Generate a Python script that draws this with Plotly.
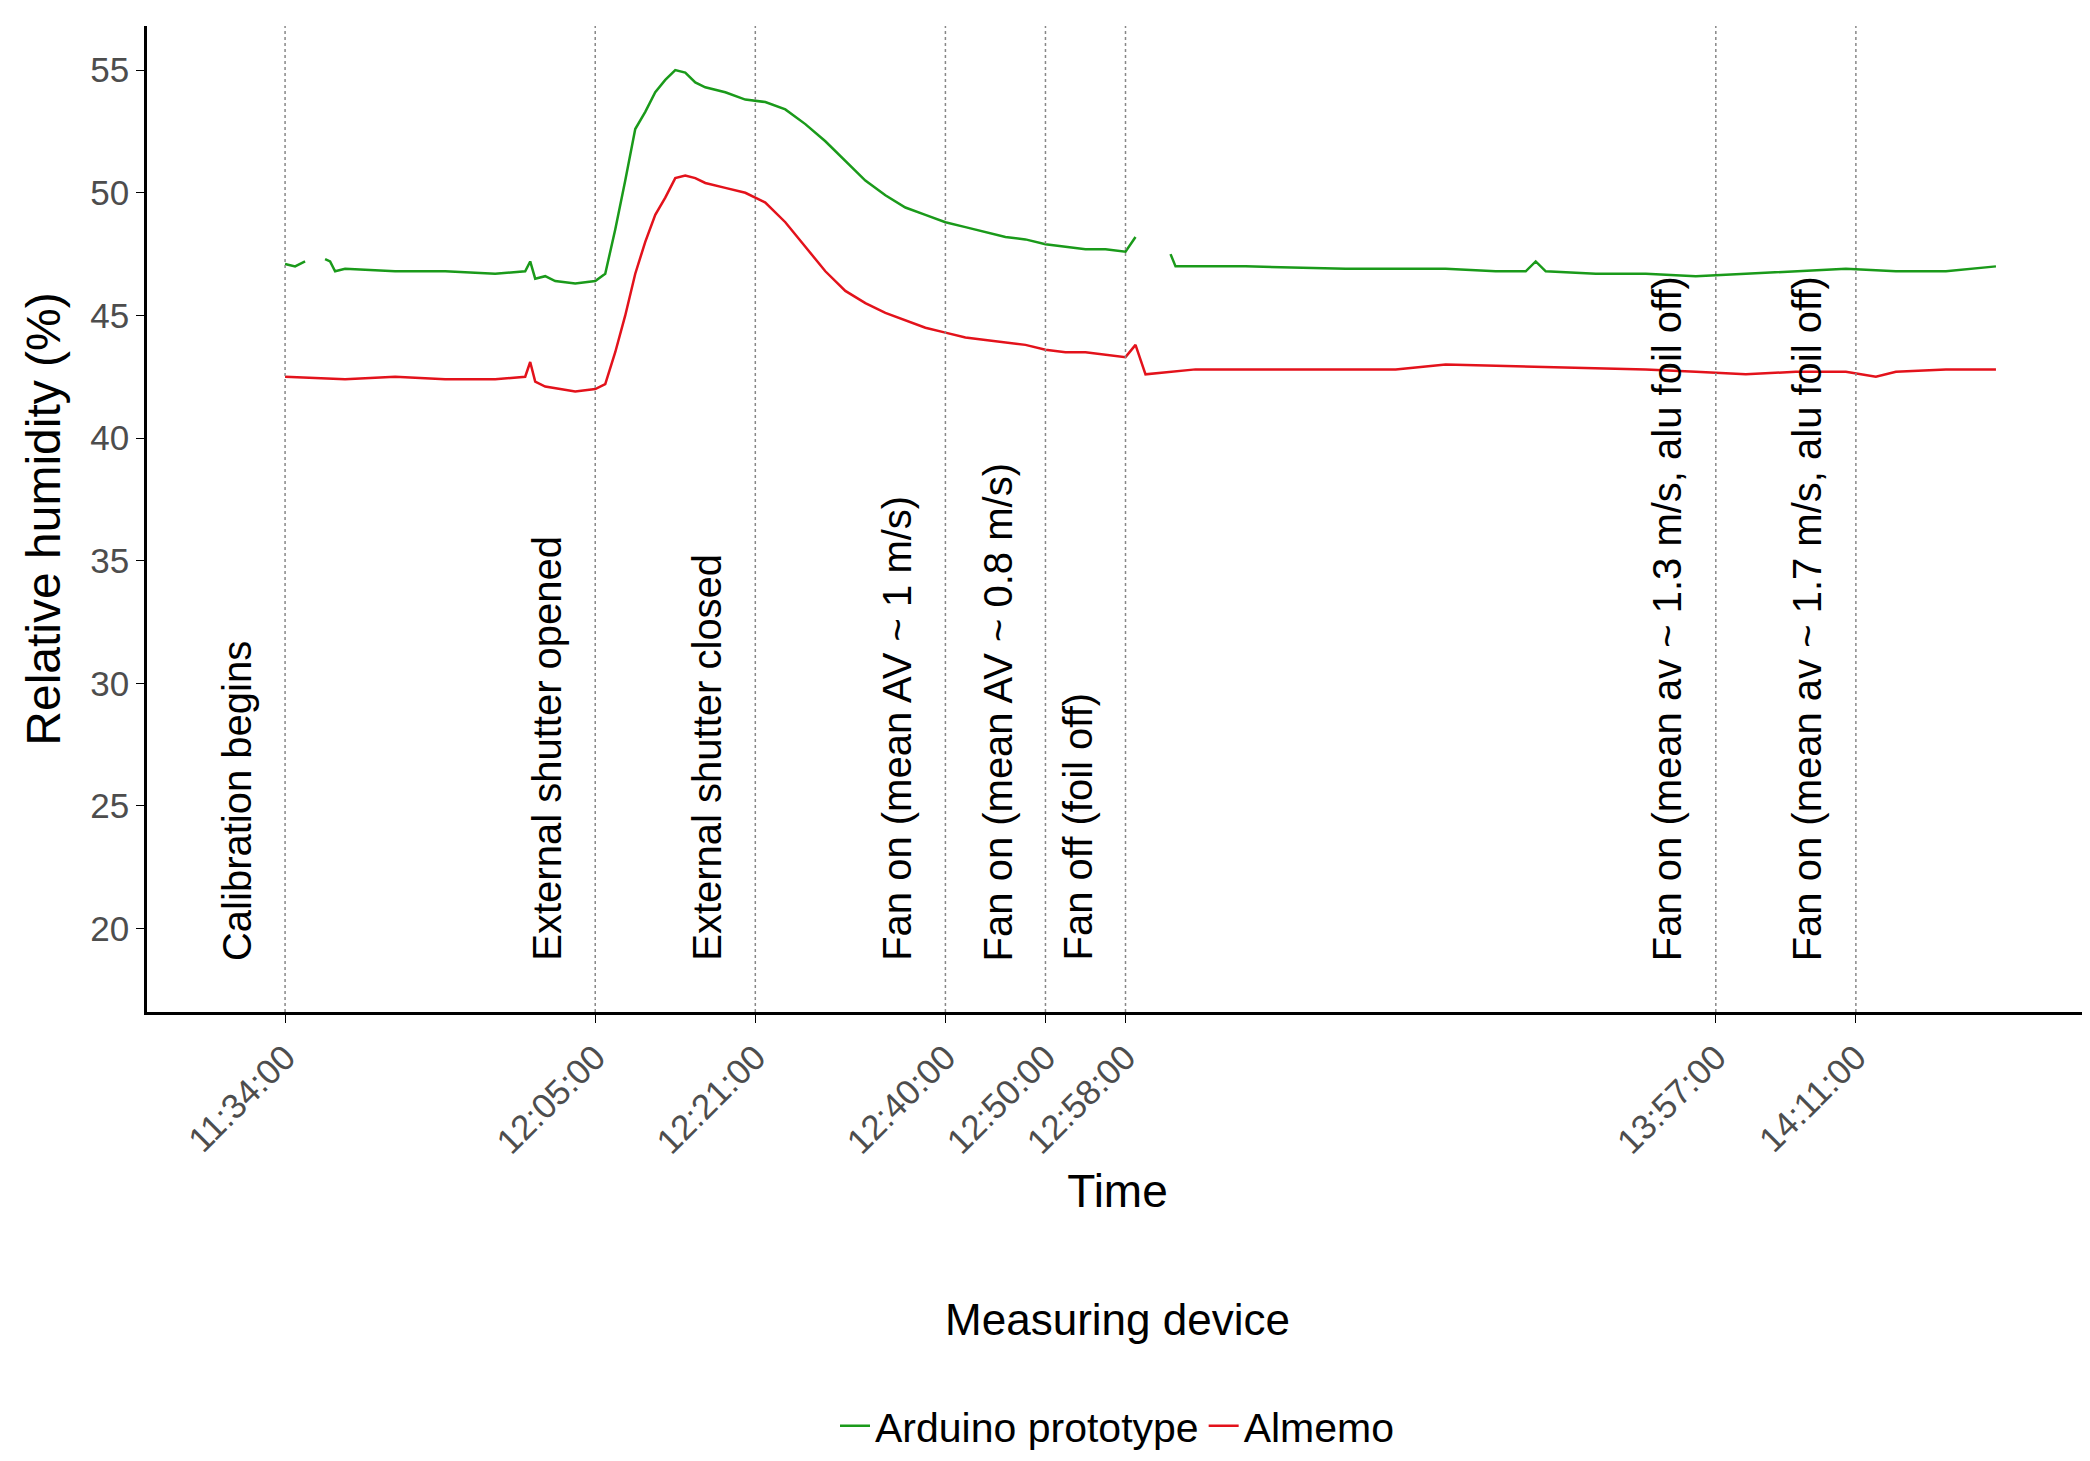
import plotly.graph_objects as go

DAY = "2021-01-01 "
# Arduino prototype (green); None marks data gaps
ard_t = ["11:34","11:35","11:36","11:36:30","11:38","11:38:30","11:39","11:40","11:45","11:50","11:55","11:58","11:58:30","11:59","12:00","12:01","12:03","12:05","12:06","12:07","12:08","12:09","12:10","12:11","12:12","12:13","12:14","12:15","12:16","12:18","12:20","12:22","12:24","12:26","12:28","12:30","12:32","12:34","12:36","12:38","12:40","12:42","12:44","12:46","12:48","12:50","12:52","12:54","12:56","12:58","12:59","12:59:30","13:02:30","13:03","13:10","13:20","13:30","13:35","13:38","13:39","13:40","13:45","13:50","13:55","14:00","14:05","14:10","14:15","14:20","14:25"]
ard_v = [47.1,47.0,47.2,None,47.3,47.2,46.8,46.9,46.8,46.8,46.7,46.8,47.2,46.5,46.6,46.4,46.3,46.4,46.7,48.5,50.5,52.6,53.3,54.1,54.6,55.0,54.9,54.5,54.3,54.1,53.8,53.7,53.4,52.8,52.1,51.3,50.5,49.9,49.4,49.1,48.8,48.6,48.4,48.2,48.1,47.9,47.8,47.7,47.7,47.6,48.2,None,47.5,47.0,47.0,46.9,46.9,46.8,46.8,47.2,46.8,46.7,46.7,46.6,46.7,46.8,46.9,46.8,46.8,47.0]
# Almemo (red)
alm_t = ["11:34","11:40","11:45","11:50","11:55","11:58","11:58:30","11:59","12:00","12:03","12:05","12:06","12:07","12:08","12:09","12:10","12:11","12:12","12:13","12:14","12:15","12:16","12:18","12:20","12:22","12:24","12:26","12:28","12:30","12:32","12:34","12:36","12:38","12:40","12:42","12:44","12:46","12:48","12:50","12:52","12:54","12:56","12:58","12:59","13:00","13:05","13:10","13:20","13:25","13:30","13:40","13:50","13:55","14:00","14:05","14:10","14:13","14:15","14:20","14:25"]
alm_v = [42.5,42.4,42.5,42.4,42.4,42.5,43.1,42.3,42.1,41.9,42.0,42.2,43.5,45.0,46.7,48.0,49.1,49.8,50.6,50.7,50.6,50.4,50.2,50.0,49.6,48.8,47.8,46.8,46.0,45.5,45.1,44.8,44.5,44.3,44.1,44.0,43.9,43.8,43.6,43.5,43.5,43.4,43.3,43.8,42.6,42.8,42.8,42.8,42.8,43.0,42.9,42.8,42.7,42.6,42.7,42.7,42.5,42.7,42.8,42.8]

event_t = ["11:34","12:05","12:21","12:40","12:50","12:58","13:57","14:11"]
event_lbl = ["Calibration begins","External shutter opened","External shutter closed",
             "Fan on (mean AV ~ 1 m/s)","Fan on (mean AV ~ 0.8 m/s)","Fan off (foil off)",
             "Fan on (mean av ~ 1.3 m/s, alu foil off)","Fan on (mean av ~ 1.7 m/s, alu foil off)"]

def ts(s):
    return DAY + (s if s.count(":") == 2 else s + ":00")

fig = go.Figure()
fig.add_trace(go.Scatter(x=[ts(t) for t in ard_t], y=ard_v, mode="lines", name="Arduino prototype",
                         line=dict(color="#1a9a1a", width=2.5), connectgaps=False))
fig.add_trace(go.Scatter(x=[ts(t) for t in alm_t], y=alm_v, mode="lines", name="Almemo",
                         line=dict(color="#e3121b", width=2.5)))

for t, lbl in zip(event_t, event_lbl):
    fig.add_shape(type="line", xref="x", yref="paper", x0=ts(t), x1=ts(t), y0=0, y1=1,
                  line=dict(color="#888888", width=1.5, dash="dot"))
    fig.add_annotation(x=ts(t), y=18.6, text=lbl, textangle=-90, showarrow=False,
                       xanchor="center", yanchor="bottom", xshift=-48,
                       font=dict(size=40, color="black"))

fig.update_layout(
    width=2090, height=1461, plot_bgcolor="white", paper_bgcolor="white",
    font=dict(family="Liberation Sans, Arial", color="black"),
    margin=dict(l=139, r=10, t=18, b=450),
    showlegend=True,
    legend=dict(orientation="h", x=0.5, xanchor="center", y=-0.27, yanchor="top",
                title=dict(text="Measuring device<br> ", side="top center", font=dict(size=44)),
                font=dict(size=41)),
    xaxis=dict(type="date", range=[ts("11:20:12"), ts("14:34:12")],
               tickvals=[ts(t) for t in event_t], ticktext=[t + ":00" for t in event_t],
               tickangle=-45, tickfont=dict(size=35, color="#4d4d4d"),
               showgrid=False, zeroline=False, showline=True, linecolor="black", linewidth=2.5,
               ticks="outside", tickcolor="black", ticklen=8,
               title=dict(text="Time", font=dict(size=46))),
    yaxis=dict(range=[16.6, 56.8], tickvals=[20,25,30,35,40,45,50,55],
               tickfont=dict(size=35, color="#4d4d4d"),
               showgrid=False, zeroline=False, showline=True, linecolor="black", linewidth=2.5,
               ticks="outside", tickcolor="black", ticklen=8,
               title=dict(text="Relative humidity (%)", font=dict(size=48))),
)
fig.write_html("out.html")
